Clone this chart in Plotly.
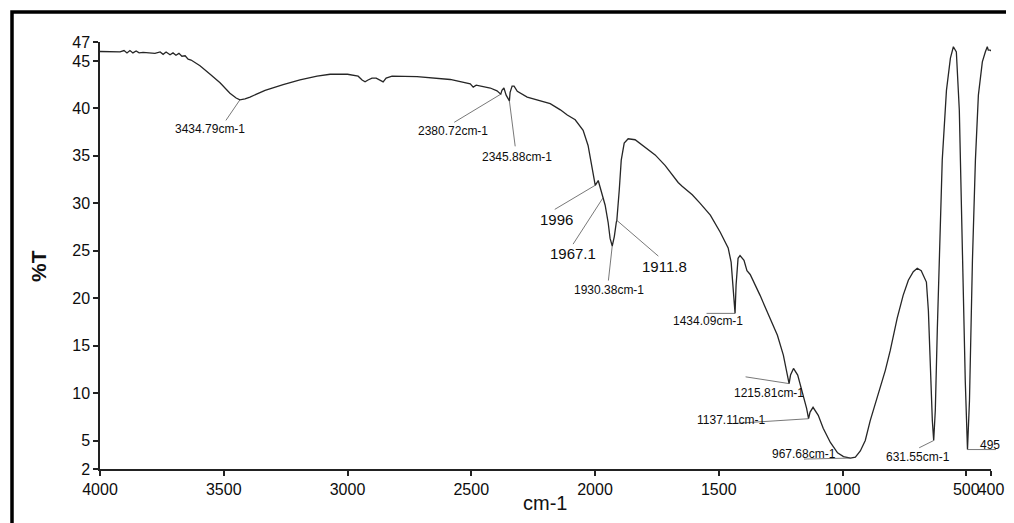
import plotly.graph_objects as go

# ---------------- data ----------------
wavenumber = [4000, 3960, 3919, 3903, 3891, 3879, 3867, 3854, 3842, 3826, 3806, 3778, 3757, 3745,
              3733, 3717, 3705, 3693, 3681, 3669, 3656, 3644, 3632, 3616, 3596, 3555, 3515, 3475,
              3450, 3434.79, 3414, 3394, 3333, 3260, 3192, 3123, 3070, 3000, 2957, 2941, 2929,
              2917, 2901, 2884, 2868, 2856, 2844, 2820, 2719, 2585, 2504, 2492, 2480, 2423, 2396,
              2380.72, 2376, 2368, 2359, 2345.88, 2343, 2335, 2327, 2314, 2274, 2221, 2181, 2140,
              2112, 2080, 2048, 2028, 2011, 1999, 1987, 1975, 1967.1, 1959, 1947, 1939, 1930.38,
              1922, 1914, 1911.8, 1902, 1894, 1882, 1866, 1838, 1797, 1757, 1717, 1664, 1648, 1607,
              1575, 1534, 1494, 1462, 1450, 1442, 1434.09, 1430, 1422, 1414, 1398, 1386, 1373,
              1333, 1292, 1263, 1239, 1227, 1215.81, 1210, 1198, 1181, 1161, 1145, 1137.11, 1131,
              1119, 1098, 1078, 1049, 1020, 996, 967.68, 948, 928, 908, 888, 868, 847, 827, 807,
              779, 755, 734, 714, 698, 682, 669, 661, 653, 645, 637, 631.55, 625, 617, 609, 597,
              580, 564, 552, 540, 528, 516, 504, 495, 487, 475, 463, 451, 435, 423, 415, 411, 403,
              400]
transmittance = [46.0, 46.0, 45.95, 46.1, 45.85, 46.1, 45.85, 46.05, 45.85, 45.9, 45.85, 45.8, 45.95,
                 45.7, 45.95, 45.65, 45.85, 45.6, 45.8, 45.5, 45.55, 45.2, 45.1, 44.8, 44.5, 43.6,
                 42.7, 41.6, 41.1, 40.9, 41.0, 41.2, 41.9, 42.5, 43.0, 43.4, 43.6, 43.6, 43.4, 43.0,
                 42.8, 43.0, 43.2, 43.2, 43.0, 42.8, 43.2, 43.4, 43.35, 43.05, 42.6, 42.25, 42.45,
                 42.15, 41.85, 41.5, 41.9, 42.15, 41.4, 40.8, 41.7, 42.35, 42.35, 41.8, 41.2, 40.8,
                 40.5, 39.85, 39.3, 38.8, 37.7, 36.1, 33.5, 31.9, 32.4, 31.2, 30.6, 29.8, 28.0, 26.3,
                 25.5, 26.5, 28.0, 28.2, 31.4, 34.55, 36.35, 36.8, 36.7, 35.9, 35.1, 34.0, 32.2, 31.8,
                 30.9, 30.0, 28.75, 26.95, 25.3, 23.8, 20.8, 18.4, 21.4, 24.2, 24.5, 24.0, 22.9,
                 22.5, 20.3, 17.9, 16.1, 14.0, 12.4, 11.0, 11.9, 12.6, 11.9, 10.0, 8.4, 7.3, 8.0,
                 8.5, 7.65, 6.3, 4.8, 3.7, 3.3, 3.15, 3.25, 3.9, 5.0, 7.1, 8.8, 10.5, 12.4, 14.5,
                 17.9, 20.3, 21.9, 22.8, 23.15, 22.9, 22.1, 21.7, 18.7, 12.4, 7.1, 5.0, 8.2, 16.6,
                 25.05, 34.55, 41.9, 45.3, 46.5, 45.95, 39.8, 25.05, 11.3, 4.05, 9.2, 24.0, 34.55,
                 41.4, 44.9, 45.95, 46.5, 46.15, 46.15, 46.05]

x_tick_vals = [4000, 3500, 3000, 2500, 2000, 1500, 1000, 500, 400]
x_tick_text = ["4000", "3500", "3000", "2500", "2000", "1500", "1000", "500", "400"]
y_tick_vals = [2, 5, 10, 15, 20, 25, 30, 35, 40, 45, 47]
y_tick_text = ["2", "5", "10", "15", "20", "25", "30", "35", "40", "45", "47"]

# peak labels: wavenumber, label text
peak_wn = [3434.79, 2380.72, 2345.88, 1999, 1967.1, 1930.38, 1911.8,
           1434.09, 1215.81, 1137.11, 967.68, 631.55, 495]
peak_text = ["3434.79cm-1", "2380.72cm-1", "2345.88cm-1", "1996", "1967.1", "1930.38cm-1",
             "1911.8", "1434.09cm-1", "1215.81cm-1", "1137.11cm-1", "967.68cm-1",
             "631.55cm-1", "495"]

# ---------------- layout geometry (pixels, page coordinates) ----------------
W, H = 1014, 523
OFF = 8  # default body margin of the html page
L, R, T, B = 100, 991, 42, 469  # plot area on the page

# leader-line tail offsets (px) and text centre offsets (px) for each label
line_off = [(-15, 22), (-48, 29), (6, 47), (-42, 25), (-31, 48), (-4, 36), (43, 37),
            (-30, 0), (-45, -7), (-78, 5), (-48, 1), (-16, 8), (30, 0)]
text_off = [(-30, 29), (-48, 37), (8, 56), (-39, 34), (-30, 56), (-3, 44), (48, 46),
            (-27, 8), (-20, 9), (-77, 1), (-47, -4), (-16, 16), (23, -5)]
big_labels = {"1996", "1967.1", "1911.8"}

FONT = "Liberation Sans, Arial, sans-serif"


def px_to_paper_x(px):
    return (px - L) / (R - L)


def px_to_paper_y(py):
    return (B - py) / (B - T)


fig = go.Figure()
fig.add_trace(go.Scatter(x=wavenumber, y=transmittance, mode="lines",
                         line=dict(color="#262626", width=1.3), hoverinfo="skip",
                         showlegend=False))

annotations = []
for wn, txt, (lax, lay), (tx, ty) in zip(peak_wn, peak_text, line_off, text_off):
    idx = min(range(len(wavenumber)), key=lambda i: abs(wavenumber[i] - wn))
    yv = transmittance[idx]
    annotations.append(dict(x=wn, y=yv, xref="x", yref="y", text="", showarrow=True,
                            ax=lax, ay=lay, arrowhead=0, arrowwidth=0.8, arrowcolor="#555555",
                            standoff=0, startstandoff=0, font=dict(size=1)))
    size = 15 if txt in big_labels else 12
    annotations.append(dict(x=wn, y=yv, xref="x", yref="y", text=txt, showarrow=False,
                            xshift=tx, yshift=-ty, xanchor="center", yanchor="middle",
                            font=dict(family=FONT, size=size, color="#0d0d0d")))

# axis titles
annotations.append(dict(text="<b>%T</b>", xref="paper", yref="paper",
                        x=px_to_paper_x(38), y=px_to_paper_y(266), showarrow=False,
                        textangle=-90, font=dict(family=FONT, size=21, color="#111111"),
                        xanchor="center", yanchor="middle"))
annotations.append(dict(text="cm-1", xref="paper", yref="paper",
                        x=px_to_paper_x(545), y=px_to_paper_y(503), showarrow=False,
                        font=dict(family=FONT, size=20, color="#111111"),
                        xanchor="center", yanchor="middle"))

axis_common = dict(showgrid=False, zeroline=False, showline=True, linecolor="#222222",
                   linewidth=1.5, ticks="outside", ticklen=5, tickwidth=1.5,
                   tickcolor="#222222", automargin=False, tickangle=0,
                   tickfont=dict(family=FONT, size=16, color="#0d0d0d"))

fig.update_layout(
    width=W, height=H,
    margin=dict(l=L - OFF, r=W - (R - OFF), t=T - OFF, b=H - (B - OFF), pad=0,
                autoexpand=False),
    paper_bgcolor="white", plot_bgcolor="white",
    annotations=annotations,
    shapes=[dict(type="rect", xref="paper", yref="paper",
                 x0=px_to_paper_x(12), x1=px_to_paper_x(1008),
                 y0=px_to_paper_y(545), y1=px_to_paper_y(12),
                 line=dict(color="black", width=3.5), fillcolor="rgba(0,0,0,0)", layer="below")],
    xaxis=dict(range=[4000, 400], tickvals=x_tick_vals, ticktext=x_tick_text, **axis_common),
    yaxis=dict(range=[2, 47], tickvals=y_tick_vals, ticktext=y_tick_text, **axis_common),
)

fig.write_html("out.html")
